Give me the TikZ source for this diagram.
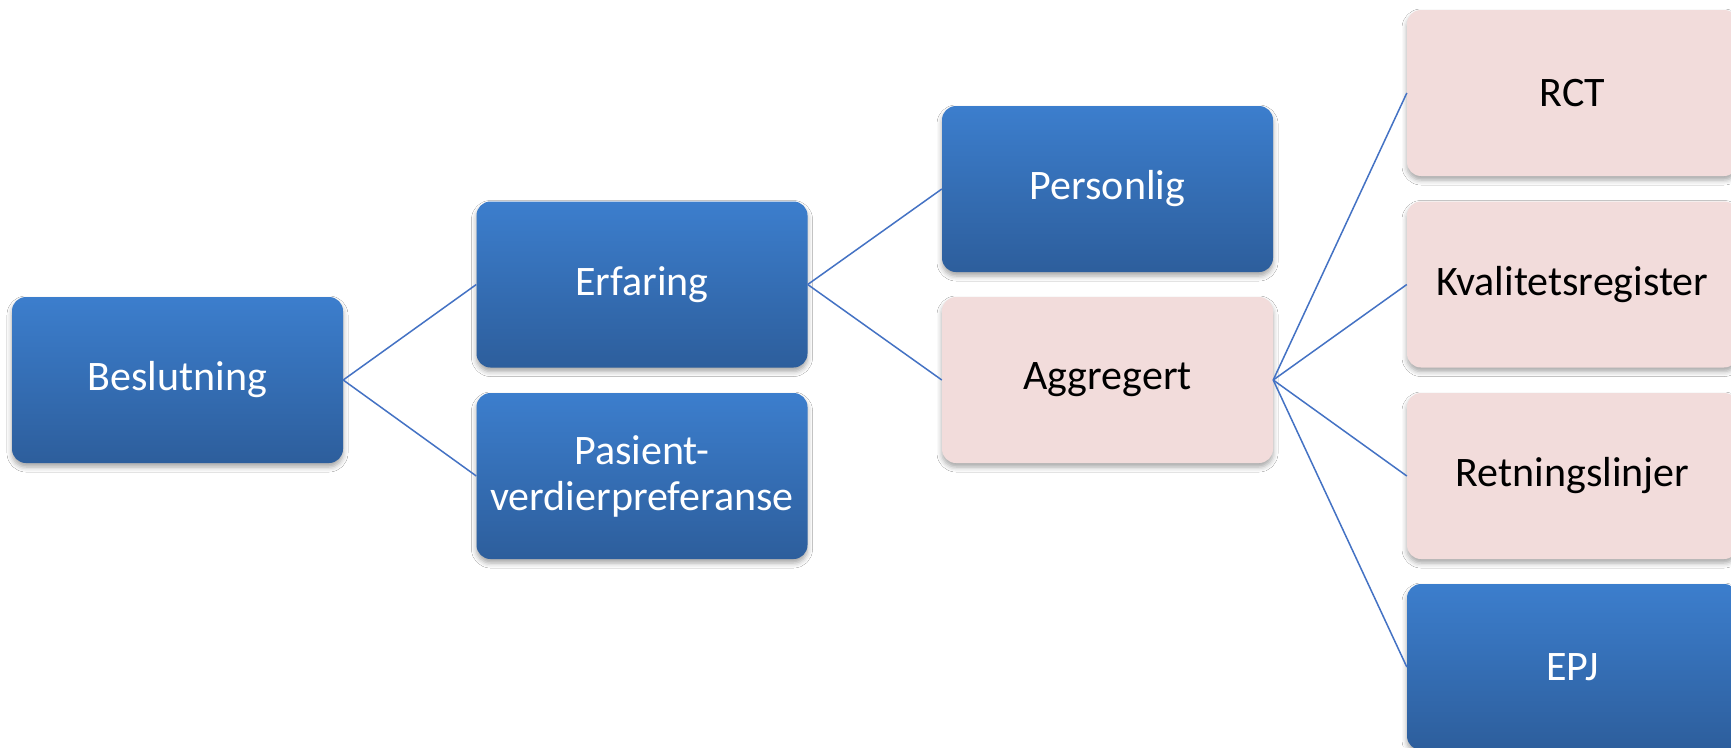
\documentclass[tikz,border=0pt]{standalone}
\usepackage{fontspec}
\setmainfont{Carlito}
\usetikzlibrary{shadows.blur}
\definecolor{bluetop}{RGB}{60,126,205}
\definecolor{bluebot}{RGB}{45,94,156}
\definecolor{pinkfill}{RGB}{242,220,219}
\definecolor{linkblue}{RGB}{68,114,196}
\tikzset{
  boxbase/.style={rectangle, rounded corners=14pt, minimum width=331pt, minimum height=166pt,
    inner sep=0pt, align=center, font=\fontsize{42}{46}\selectfont,
    blur shadow={shadow xshift=0pt, shadow yshift=-4pt, shadow blur radius=5pt, shadow opacity=35}},
  bluebox/.style={boxbase, top color=bluetop, bottom color=bluebot, text=white},
  pinkbox/.style={boxbase, fill=pinkfill, text=black},
  link/.style={draw=linkblue, line width=1.5pt}
}
\begin{document}
\begin{tikzpicture}[x=1pt, y=-1pt]
\useasboundingbox (0,0) rectangle (1731,747);
\clip (0,0) rectangle (1731,747);
\fill[white] (0,0) rectangle (1731,747);
\node[bluebox] (besl) at (177.5,380) {Beslutning};
\node[bluebox] (erf) at (642,284.5) {Erfaring};
\node[bluebox] (pas) at (642,476) {Pasient-\\verdierpreferanse};
\node[bluebox] (pers) at (1107.5,189) {Personlig};
\node[pinkbox] (aggr) at (1107.5,380) {Aggregert};
\node[pinkbox] (rct) at (1572.5,93) {RCT};
\node[pinkbox] (kval) at (1572.5,284.5) {Kvalitetsregister};
\node[pinkbox] (retn) at (1572.5,476) {Retningslinjer};
\node[bluebox] (epj) at (1572.5,667) {EPJ};
\draw[link] (besl.east) -- (erf.west);
\draw[link] (besl.east) -- (pas.west);
\draw[link] (erf.east) -- (pers.west);
\draw[link] (erf.east) -- (aggr.west);
\draw[link] (aggr.east) -- (rct.west);
\draw[link] (aggr.east) -- (kval.west);
\draw[link] (aggr.east) -- (retn.west);
\draw[link] (aggr.east) -- (epj.west);
\end{tikzpicture}
\end{document}
